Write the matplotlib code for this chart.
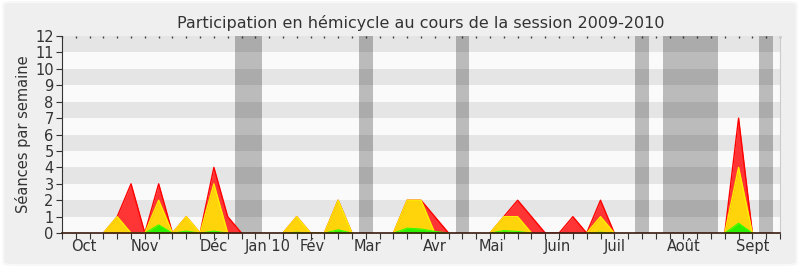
import numpy as np
import matplotlib
matplotlib.use("Agg")
import matplotlib.pyplot as plt
from matplotlib.patches import FancyBboxPatch

# semaines de la session (0 = début octobre 2009)
semaines = np.arange(52)

# séances par semaine : présences (rouge), interventions (jaune), ... (vert)
presences = [0, 0, 0, 0, 1, 3, 0, 3, 0, 1, 0, 4, 1, 0, 0, 0, 0, 1, 0, 0,
             2, 0, 0, 0, 0, 2, 2, 1, 0, 0, 0, 0, 1, 2, 1, 0, 0, 1, 0, 2,
             0, 0, 0, 0, 0, 0, 0, 0, 0, 7, 0, 0]
interventions = [0, 0, 0, 0, 1, 0, 0, 2, 0, 1, 0, 3, 0, 0, 0, 0, 0, 1, 0, 0,
                 2, 0, 0, 0, 0, 2, 2, 0, 0, 0, 0, 0, 1, 1, 0, 0, 0, 0, 0, 1,
                 0, 0, 0, 0, 0, 0, 0, 0, 0, 4, 0, 0]
autres = [0, 0, 0, 0, 0, 0, 0, 0.5, 0, 0.12, 0, 0.12, 0, 0, 0, 0, 0, 0.05, 0, 0,
          0.2, 0, 0, 0, 0, 0.3, 0.25, 0.1, 0, 0, 0, 0, 0.15, 0.1, 0, 0, 0, 0, 0, 0.05,
          0, 0, 0, 0, 0, 0, 0, 0, 0, 0.6, 0, 0]

# vacances parlementaires (en semaines)
vacances = [(12.5, 14.5), (21.5, 22.5), (28.5, 29.5), (41.5, 42.5), (43.5, 47.5), (50.5, 51.5)]

mois = ["Oct", "Nov", "Déc", "Jan 10", "Fév", "Mar", "Avr", "Mai", "Juin", "Juil", "Août", "Sept"]
pos_mois = [1.6, 6, 11, 14.9, 18.1, 22.1, 27, 31.1, 35.9, 40, 45, 50]


def contour(v):
    # on ne trace pas le trait sur les portions à zéro
    v = np.asarray(v, dtype=float)
    prev = np.r_[0, v[:-1]]
    nxt = np.r_[v[1:], 0]
    return np.where((v == 0) & (prev == 0) & (nxt == 0), np.nan, v)


fig = plt.figure(figsize=(8, 2.67), dpi=100)
fig.patch.set_facecolor("white")
fig.patches.append(FancyBboxPatch((0.004, 0.008), 0.992, 0.984, boxstyle="round,pad=0,rounding_size=0.01",
                                  transform=fig.transFigure, facecolor="#efefef",
                                  edgecolor="#f8f8f8", linewidth=1.5, zorder=-10))

ax = fig.add_axes([0.0775, 0.127, 0.8975, 0.738])
ax.set_facecolor("#fafafa")

for y in range(1, 12, 2):
    ax.axhspan(y, y + 1, color="#e5e5e5", lw=0, zorder=0)
for a, b in vacances:
    ax.axvspan(a, b, color="black", alpha=0.25, lw=0, zorder=1)

ax.fill_between(semaines, presences, color="#ff3535", lw=0, zorder=2)
ax.plot(semaines, contour(presences), color="#ff0000", lw=1, zorder=3)
ax.fill_between(semaines, interventions, color="#ffd40a", lw=0, zorder=4)
ax.plot(semaines, contour(interventions), color="#ffee00", lw=1, zorder=5)
ax.fill_between(semaines, autres, color="#2cf000", lw=0, zorder=6)
ax.plot(semaines, contour(autres), color="#33ff00", lw=0.8, zorder=7)

ax.set_xlim(0, 52)
ax.set_ylim(0, 12)
ax.set_yticks(range(13))
ax.xaxis.remove_overlapping_locs = False
ax.set_xticks(range(53))
ax.set_xticklabels([])
ax.set_xticks(pos_mois, minor=True)
ax.set_xticklabels(mois, minor=True)
ax.tick_params(axis="x", which="major", direction="out", length=4, color="#333333")
ax.tick_params(axis="x", which="minor", length=0, labelsize=10.5, colors="#333333", pad=4)
ax.tick_params(axis="y", direction="out", length=4, color="#333333", labelsize=10.5,
               labelcolor="#333333", pad=2)

ax.spines["top"].set_visible(False)
ax.spines["right"].set_color("#cccccc")
ax.spines["left"].set_color("#333333")
ax.spines["bottom"].set_color("#3a1a10")
ax.spines["bottom"].set_linewidth(1.2)
ax.spines["bottom"].set_zorder(8)

# petits points en haut de l'axe
sec = ax.secondary_xaxis("top")
sec.set_xticks(range(53))
sec.set_xticklabels([])
sec.tick_params(direction="in", length=1.2, width=1, color="#444444")
sec.spines["top"].set_visible(False)

ax.set_title("Participation en hémicycle au cours de la session 2009-2010",
             fontsize=11.5, color="#333333", pad=6)
ax.set_ylabel("Séances par semaine", fontsize=10.5, color="#333333", labelpad=3)

plt.savefig("out.png", dpi=100, facecolor=fig.get_facecolor())
